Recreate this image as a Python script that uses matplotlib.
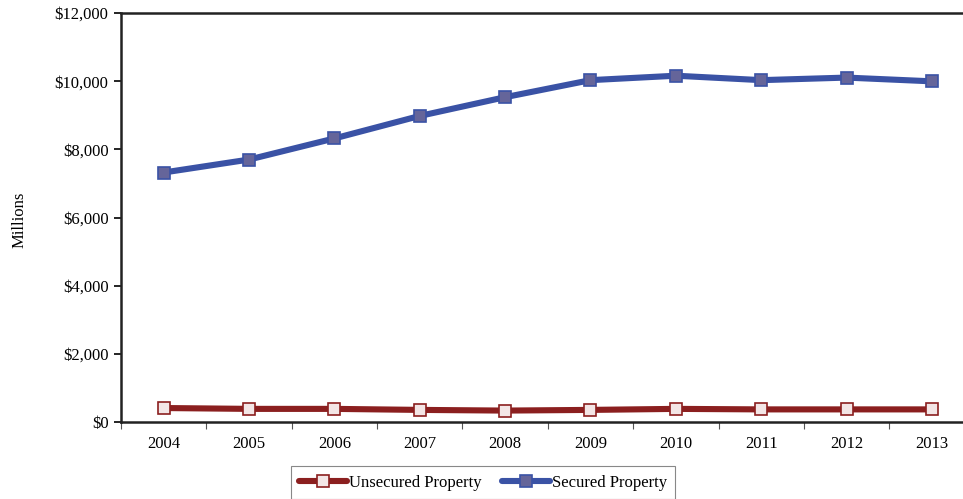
import matplotlib
matplotlib.use("Agg")
import matplotlib.pyplot as plt
import numpy as np

years = ["2004", "2005", "2006", "2007", "2008", "2009", "2010", "2011", "2012", "2013"]
secured = [7320, 7700, 8320, 8980, 9530, 10030, 10160, 10030, 10105, 9995]
unsecured = [410, 385, 385, 355, 335, 355, 385, 370, 370, 370]
yticks = [0, 2000, 4000, 6000, 8000, 10000, 12000]
ytick_labels = ["$0", "$2,000", "$4,000", "$6,000", "$8,000", "$10,000", "$12,000"]

plt.rcParams['font.family'] = ['Liberation Serif', 'DejaVu Serif']
plt.rcParams['font.size'] = 12

fig = plt.figure(figsize=(9.63, 4.99), dpi=100)
ax = fig.add_axes([121/963, 1-422/499, (974.6-121)/963, (422-13)/499])

x = np.arange(len(years))
ax.plot(x, unsecured, color='#8B1F1F', lw=4.4, marker='s', ms=8.5,
        mfc='#F3E6E6', mec='#8B1F1F', mew=1.2, label='Unsecured Property', solid_capstyle='round')
ax.plot(x, secured, color='#3A52A5', lw=4.4, marker='s', ms=8.5,
        mfc='#65659A', mec='#3A52A5', mew=1.2, label='Secured Property', solid_capstyle='round')

ax.set_xlim(-0.5, len(years)-0.5)
ax.set_ylim(0, 12000)
ax.set_yticks(yticks)
ax.set_yticklabels(ytick_labels)
ax.set_xticks(x)
ax.set_xticklabels(years)
ax.set_xticks(np.arange(-0.5, len(years)), minor=True)
ax.tick_params(axis='x', which='major', length=0, pad=10)
ax.tick_params(axis='x', which='minor', length=5, width=0.8, color='#555555', direction='out')
ax.tick_params(axis='y', which='major', length=5, width=1.2, direction='out', pad=4)
for s in ['left', 'top', 'bottom']:
    ax.spines[s].set_linewidth(1.8)
    ax.spines[s].set_color('#222222')
ax.spines['right'].set_visible(False)

ax.set_ylabel('Millions')
ax.yaxis.set_label_coords(-0.109, 0.494)

leg = fig.legend(loc='upper center', bbox_to_anchor=(483/963, 1-458/499), ncol=2,
                 frameon=True, fancybox=False, edgecolor='#888888', framealpha=1,
                 handlelength=2.9, handletextpad=0.1, columnspacing=1.2,
                 borderpad=0.5, fontsize=12)
leg.get_frame().set_linewidth(0.8)

fig.savefig('out.png', dpi=100)
